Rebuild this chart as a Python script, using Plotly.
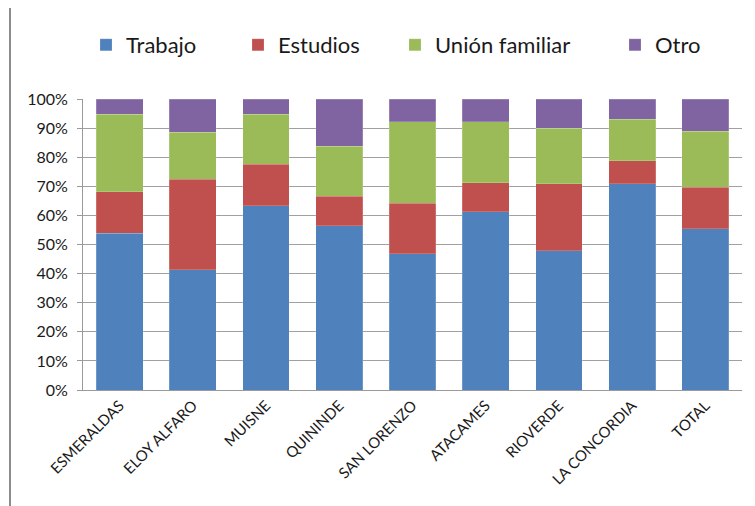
import plotly.graph_objects as go

categories = ["ESMERALDAS", "ELOY ALFARO", "MUISNE", "QUININDE", "SAN LORENZO",
              "ATACAMES", "RIOVERDE", "LA CONCORDIA", "TOTAL"]
trabajo = [53.9, 41.3, 63.3, 56.4, 46.8, 61.3, 47.9, 70.9, 55.4]
estudios = [14.3, 31.2, 14.2, 10.2, 17.4, 10.0, 22.9, 7.9, 14.3]
union_familiar = [26.5, 16.0, 17.2, 17.1, 27.9, 20.8, 19.2, 14.2, 19.3]
otro = [5.3, 11.5, 5.3, 16.3, 7.9, 7.9, 10.0, 7.0, 11.0]

series = [
    ("Trabajo", trabajo, "#4F81BD", "legend"),
    ("Estudios", estudios, "#C0504D", "legend2"),
    ("Unión familiar", union_familiar, "#9BBB59", "legend3"),
    ("Otro", otro, "#8064A2", "legend4"),
]

fig = go.Figure()
for name, vals, color, leg in series:
    fig.add_trace(go.Bar(
        x=categories, y=vals, name=name, legend=leg, showlegend=True,
        marker=dict(color=color, line=dict(color="rgba(255,255,255,0.35)", width=0.5)),
    ))

# page has an 8px body margin: figure pixel = page pixel - 8
OFF = 8
W, H = 747, 498
L, R, T, B = 83 - OFF, W - (742 - OFF), 99 - OFF, H - (390 - OFF)
pw, ph = W - L - R, H - T - B

def px_x(p):
    return (p - OFF - L) / pw

def px_y(p):
    return (H - B - (p - OFF)) / ph

FONT = "Lato, 'Open Sans', sans-serif"
legend_font = dict(family=FONT, size=22, color="#1a1a1a")
leg_common = dict(orientation="h", font=legend_font, bgcolor="rgba(0,0,0,0)",
                  xref="container", yref="container",
                  xanchor="left", yanchor="middle", itemwidth=30)
legend_x = [86, 238, 395, 615]
layout_legends = {}
for i, key in enumerate(["legend", "legend2", "legend3", "legend4"]):
    layout_legends[key] = dict(leg_common, x=(legend_x[i] - OFF) / W, y=1 - (45 - OFF) / H)

fig.update_layout(
    barmode="stack",
    bargap=0.36,
    width=W, height=H,
    margin=dict(l=L, r=R, t=T, b=B, autoexpand=False),
    paper_bgcolor="white",
    plot_bgcolor="white",
    showlegend=True,
    font=dict(family=FONT, color="#1a1a1a"),
    **layout_legends,
)
fig.update_xaxes(
    tickangle=-45,
    tickfont=dict(size=15, color="#1a1a1a"),
    showline=True, linecolor="#9a9a9a", linewidth=1,
    showgrid=False, automargin=False,
)
fig.update_yaxes(
    range=[0, 100],
    tickvals=[0, 10, 20, 30, 40, 50, 60, 70, 80, 90, 100],
    ticktext=["0%", "10%", "20%", "30%", "40%", "50%", "60%", "70%", "80%", "90%", "100%"],
    tickfont=dict(size=16, color="#1a1a1a"),
    showgrid=True, gridcolor="#a0a0a0", gridwidth=1,
    showline=True, linecolor="#9a9a9a", linewidth=1,
    ticks="outside", ticklen=5, tickcolor="#9a9a9a",
    ticklabelstandoff=6,
    zeroline=False, automargin=False,
)
fig.add_shape(type="line", xref="paper", yref="paper",
              x0=px_x(10), x1=px_x(10), y0=px_y(520), y1=px_y(-10),
              line=dict(color="#8c8c8c", width=2))

fig.write_html("out.html")
